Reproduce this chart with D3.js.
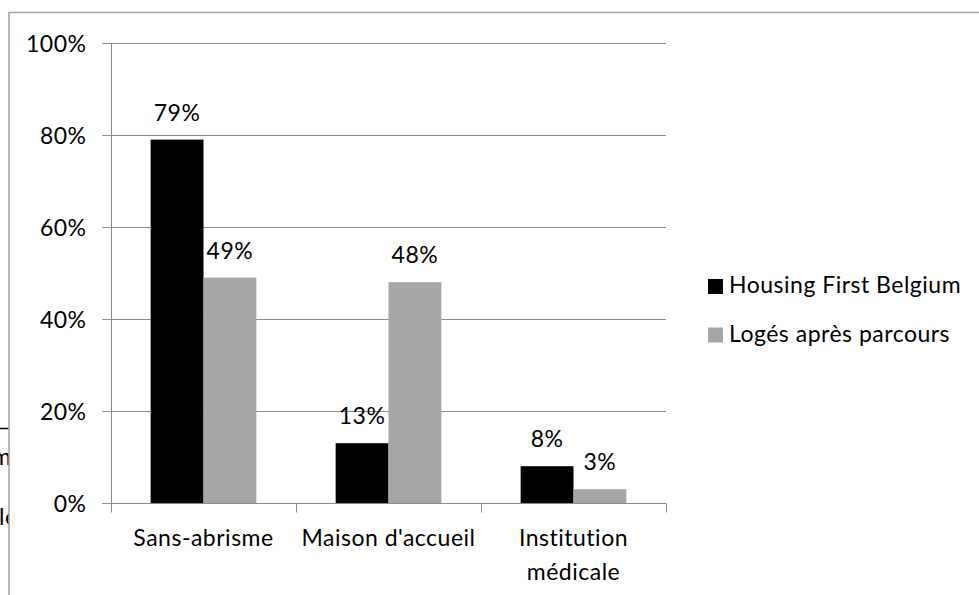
<!DOCTYPE html>
<html>
<head>
<meta charset="utf-8">
<script src="https://cdn.jsdelivr.net/npm/d3@7"></script>
<style>
  html, body { margin: 0; padding: 0; background: #fff; }
  svg { display: block; }
  text { font-family: Lato, "Open Sans", sans-serif; fill: #000; font-variant-ligatures: none; letter-spacing: 0.5px; }
</style>
</head>
<body>
<svg id="chart" width="979" height="595"></svg>
<script>
// Chart data
const categories = ["Sans-abrisme", "Maison d'accueil", "Institution médicale"];
const seriesNames = ["Housing First Belgium", "Logés après parcours"];
const housingFirst = [79, 13, 8];
const logesApresParcours = [49, 48, 3];
const yTicks = [0, 20, 40, 60, 80, 100];

const seriesValues = [housingFirst, logesApresParcours];
const seriesColors = ["#000000", "#a6a6a6"];
const FONT = 23;
const gridColor = "#8a8a8a";

const svg = d3.select("#chart");

// Fragments of the surrounding page, partly hidden by the chart frame
const under = svg.append("g");
under.append("line").attr("x1", 0).attr("x2", 9).attr("y1", 428.5).attr("y2", 428.5)
  .attr("stroke", "#000").attr("stroke-width", 1.5);
under.append("text").attr("x", -8).attr("y", 465).style("font-size", FONT + "px").text("m");
under.append("text").attr("x", -1).attr("y", 525).style("font-size", FONT + "px").text("le");

// Chart frame
svg.append("rect").attr("x", 9).attr("y", 12.5).attr("width", 1000).attr("height", 620)
  .attr("fill", "#fff").attr("stroke", "#a3a3a3").attr("stroke-width", 1.5);

const plot = { left: 111, right: 666, top: 43, bottom: 503 };

const x = d3.scaleBand().domain(categories).range([plot.left, plot.right]).paddingInner(0).paddingOuter(0);
// 150% gap width: two bars fill 2/3.5 of each band
const barW = x.bandwidth() / 3.5;
const y = d3.scaleLinear().domain([0, 100]).range([plot.bottom, plot.top]);

// Gridlines
svg.append("g").selectAll("line").data(yTicks.filter(d => d > 0)).join("line")
  .attr("x1", plot.left).attr("x2", plot.right)
  .attr("y1", d => Math.round(y(d)) + 0.5).attr("y2", d => Math.round(y(d)) + 0.5)
  .attr("stroke", gridColor).attr("stroke-width", 1);

// Y axis
const yAxis = svg.append("g").attr("transform", `translate(${plot.left + 0.5},0)`)
  .call(d3.axisLeft(y).tickValues(yTicks).tickSize(9).tickPadding(16).tickFormat(d => d + "%"));
yAxis.select(".domain").attr("stroke", gridColor).attr("d", `M0,${plot.top}V${plot.bottom}`);
yAxis.selectAll(".tick line").attr("stroke", gridColor);
yAxis.selectAll(".tick text").style("font-size", FONT + "px").attr("fill", "#000").attr("dy", "0.36em");

// Bars
const groups = svg.append("g").selectAll("g").data(seriesValues).join("g")
  .attr("fill", (d, i) => seriesColors[i]);
groups.selectAll("rect").data((vals, si) => vals.map((v, ci) => ({ v, ci, si }))).join("rect")
  .attr("x", d => x(categories[d.ci]) + (x.bandwidth() - 2 * barW) / 2 + d.si * barW)
  .attr("width", barW)
  .attr("y", d => y(d.v))
  .attr("height", d => y(0) - y(d.v));

// Value labels
groups.selectAll("text").data((vals, si) => vals.map((v, ci) => ({ v, ci, si }))).join("text")
  .attr("x", d => x(categories[d.ci]) + (x.bandwidth() - 2 * barW) / 2 + d.si * barW + barW / 2)
  .attr("y", d => y(d.v) - 19)
  .attr("text-anchor", "middle")
  .style("font-size", FONT + "px")
  .attr("fill", "#000")
  .text(d => d.v + "%");

// X axis
const xAxisG = svg.append("g").attr("transform", `translate(0,${plot.bottom + 0.5})`);
xAxisG.append("line").attr("x1", plot.left - 9).attr("x2", plot.right).attr("y1", 0).attr("y2", 0)
  .attr("stroke", gridColor);
const bounds = [plot.left, ...categories.map(c => x(c) + x.bandwidth())];
xAxisG.selectAll(".sep").data(bounds).join("line").attr("class", "sep")
  .attr("x1", d => Math.round(d) + 0.5).attr("x2", d => Math.round(d) + 0.5)
  .attr("y1", 0).attr("y2", 9).attr("stroke", gridColor);

// Category labels, wrapped to the band width
const catLabels = xAxisG.selectAll(".cat").data(categories).join("text").attr("class", "cat")
  .attr("text-anchor", "middle")
  .style("font-size", FONT + "px")
  .attr("y", 42);
catLabels.each(function (c) {
  const t = d3.select(this);
  const cx = x(c) + x.bandwidth() / 2;
  const words = c.split(" ");
  let lines = [], line = [];
  const probe = t.append("tspan");
  words.forEach(w => {
    const test = line.concat(w).join(" ");
    probe.text(test);
    if (line.length && probe.node().getComputedTextLength() > x.bandwidth() - 6) {
      lines.push(line.join(" "));
      line = [w];
    } else line.push(w);
  });
  lines.push(line.join(" "));
  probe.remove();
  lines.forEach((l, i) => t.append("tspan").attr("x", cx).attr("dy", i ? 34 : 0).text(l));
});

// Legend
const legend = svg.append("g").selectAll("g").data(seriesNames).join("g")
  .attr("transform", (d, i) => `translate(708,${279 + i * 48.5})`);
legend.append("rect").attr("width", 15).attr("height", 15).attr("fill", (d, i) => seriesColors[i]);
legend.append("text").attr("x", 21).attr("y", 14).style("font-size", FONT + "px").text(d => d);
</script>
</body>
</html>
